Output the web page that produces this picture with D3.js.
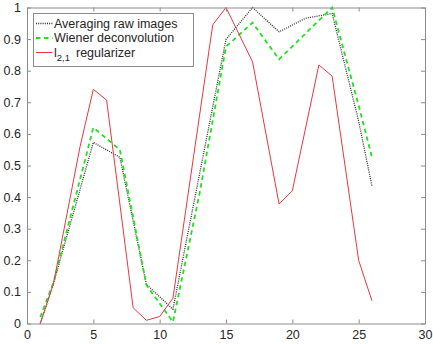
<!DOCTYPE html>
<html>
<head>
<meta charset="utf-8">
<script src="https://cdn.jsdelivr.net/npm/d3@7"></script>
<style>
  body { margin: 0; background: #fff; }
  text { font-family: "Liberation Sans", Arial, sans-serif; fill: #262626; }
</style>
</head>
<body>
<script>
const width = 433;
const height = 344;
const margin = {left: 27, right: 8, top: 7.5, bottom: 20.5};

const avgX = [1, 2, 5, 7, 9, 11, 15, 17, 19, 21, 23, 25, 26];
const avgY = [0, 0.127, 0.573, 0.526, 0.124, 0.045, 0.899, 1.0, 0.923, 0.966, 0.981, 0.64, 0.435];

const wienerX = [1, 2, 5, 7, 9, 11, 13, 15, 17, 19, 23, 25, 26];
const wienerY = [0.02, 0.13, 0.62, 0.55, 0.122, 0.005, 0.41, 0.876, 0.952, 0.836, 1.0, 0.69, 0.526];

const l21X = [1, 2, 4, 5, 6, 8, 9, 10, 11, 14, 15, 17, 19, 20, 22, 23, 25, 26];
const l21Y = [0, 0.127, 0.56, 0.741, 0.707, 0.05, 0.01, 0.022, 0.08, 0.945, 1.0, 0.828, 0.378, 0.42, 0.818, 0.783, 0.2, 0.072];

const xTicks = [0, 5, 10, 15, 20, 25, 30];
const yTicks = [0, 0.1, 0.2, 0.3, 0.4, 0.5, 0.6, 0.7, 0.8, 0.9, 1];

const axisColor = '#8c8c8c';
const tickLen = 4;

const series = [
  {xs: avgX, ys: avgY, color: '#2b2b2b', width: 1.3, dash: '1,1.2', label: 'Averaging raw images'},
  {xs: wienerX, ys: wienerY, color: '#22e022', width: 1.8, dash: '4.5,3.5', label: 'Wiener deconvolution'},
  {xs: l21X, ys: l21Y, color: '#e8383d', width: 1, dash: null, label: 'l21'}
];

const xScale = d3.scaleLinear()
                .domain([0, 30])
                .range([margin.left, width - margin.right]);

const yScale = d3.scaleLinear()
                .domain([0, 1])
                .range([height - margin.bottom, margin.top]);

const svg = d3.select('body')
              .append('svg')
              .attr('width', width)
              .attr('height', height);

// data lines
const line = d3.line()
               .x(d => xScale(d[0]))
               .y(d => yScale(d[1]));

series.forEach(s => {
  svg.append('path')
     .datum(s.xs.map((x, i) => [x, s.ys[i]]))
     .attr('d', line)
     .attr('fill', 'none')
     .attr('stroke', s.color)
     .attr('stroke-width', s.width)
     .attr('stroke-dasharray', s.dash);
});

// axes: ticks pointing inward, box on all sides
const xAxis = d3.axisBottom(xScale).tickValues(xTicks).tickSizeInner(-tickLen).tickSizeOuter(0).tickPadding(7);
const yAxis = d3.axisLeft(yScale).tickValues(yTicks).tickSizeInner(-tickLen).tickSizeOuter(0).tickPadding(6)
                .tickFormat(d => d === 0 || d === 1 ? d3.format('d')(d) : d3.format('.1f')(d));
const xTop = d3.axisTop(xScale).tickValues(xTicks).tickSizeInner(-tickLen).tickSizeOuter(0).tickFormat('');
const yRight = d3.axisRight(yScale).tickValues(yTicks).tickSizeInner(-tickLen).tickSizeOuter(0).tickFormat('');

const axes = [
  svg.append('g').attr('transform', 'translate(0,' + (height - margin.bottom) + ')').call(xAxis),
  svg.append('g').attr('transform', 'translate(' + margin.left + ',0)').call(yAxis),
  svg.append('g').attr('transform', 'translate(0,' + margin.top + ')').call(xTop),
  svg.append('g').attr('transform', 'translate(' + (width - margin.right) + ',0)').call(yRight)
];

axes.forEach(g => {
  g.selectAll('path, line').attr('stroke', axisColor);
  g.selectAll('text').style('font-size', '12.5px').attr('fill', '#262626');
});

// legend
const legend = svg.append('g');
legend.append('rect')
      .attr('x', 33.5).attr('y', 13.5)
      .attr('width', 160).attr('height', 53)
      .attr('fill', '#fff')
      .attr('stroke', axisColor)
      .attr('stroke-width', 1);

series.forEach((s, i) => {
  const y = 23.5 + i * 14.5;
  legend.append('line')
        .attr('x1', 36).attr('x2', 52.5)
        .attr('y1', y).attr('y2', y)
        .attr('stroke', s.color)
        .attr('stroke-width', s.width)
        .attr('stroke-dasharray', s.dash);
  const t = legend.append('text')
        .attr('x', 54).attr('y', y + 4.3)
        .style('font-size', '12.5px');
  if (s.label === 'l21') {
    t.append('tspan').text('l');
    t.append('tspan').attr('dy', 4).style('font-size', '9.5px').text('2,1');
    t.append('tspan').attr('dy', -4).attr('dx', 6).text('regularizer');
  } else {
    t.text(s.label);
  }
});
</script>
</body>
</html>
